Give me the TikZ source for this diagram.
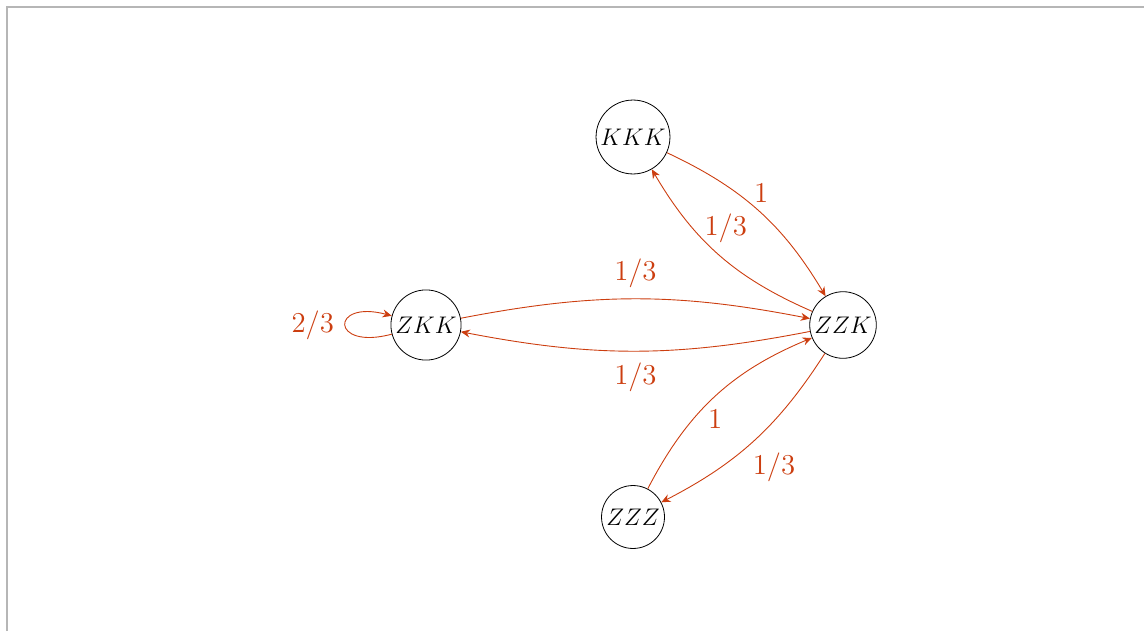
\documentclass[tikz,border=0pt]{standalone}
\usetikzlibrary{arrows.meta}
\definecolor{edgeorange}{RGB}{204,62,16}
\definecolor{framegray}{RGB}{182,182,182}
\tikzset{
  state/.style={circle, draw=black, line width=0.4pt, inner sep=1.4pt, font=\fontsize{11.5}{14}\selectfont},
  trans/.style={draw=edgeorange, line width=0.45pt, -{Stealth[length=4.6pt,width=4pt]}},
  prob/.style={text=edgeorange, font=\fontsize{13.8}{16}\selectfont, inner sep=1.5pt}
}
\begin{document}
\begin{tikzpicture}[x=0.5pt, y=-0.5pt]
  \useasboundingbox (0,0) rectangle (1144,631);
  % frame edges
  \draw[framegray, line width=1pt] (7,631) -- (7,7) -- (1144,7);

  % states
  \node[state] (kkk) at (633,137) {$KKK$};
  \node[state] (zkk) at (426,325) {$ZKK$};
  \node[state] (zzk) at (843,325) {$ZZK$};
  \node[state] (zzz) at (633,517) {$ZZZ$};

  % transitions
  \draw[trans] (kkk) to[bend left=17] node[prob, pos=0.5, above right, xshift=-4pt, yshift=2.5pt] {$1$} (zzk);
  \draw[trans] (zzk) to[bend left=18] node[prob, pos=0.5, above right, xshift=-9pt, yshift=4.5pt] {$1/3$} (kkk);
  \draw[trans] (zkk) to[bend left=11] node[prob, pos=0.5, above=4pt] {$1/3$} (zzk);
  \draw[trans] (zzk) to[bend left=11] node[prob, pos=0.5, below=4pt] {$1/3$} (zkk);
  \draw[trans] (zzz) to[bend left=20] node[prob, pos=0.5, below right, xshift=-5pt, yshift=-5pt] {$1$} (zzk);
  \draw[trans] (zzk) to[bend left=15] node[prob, pos=0.5, below right, xshift=-2.5pt, yshift=-4.5pt] {$1/3$} (zzz);
  \draw[trans] (zkk) to[out=195, in=165, loop, looseness=1, min distance=32pt]
    node[prob, left=4pt] {$2/3$} (zkk);
\end{tikzpicture}
\end{document}
